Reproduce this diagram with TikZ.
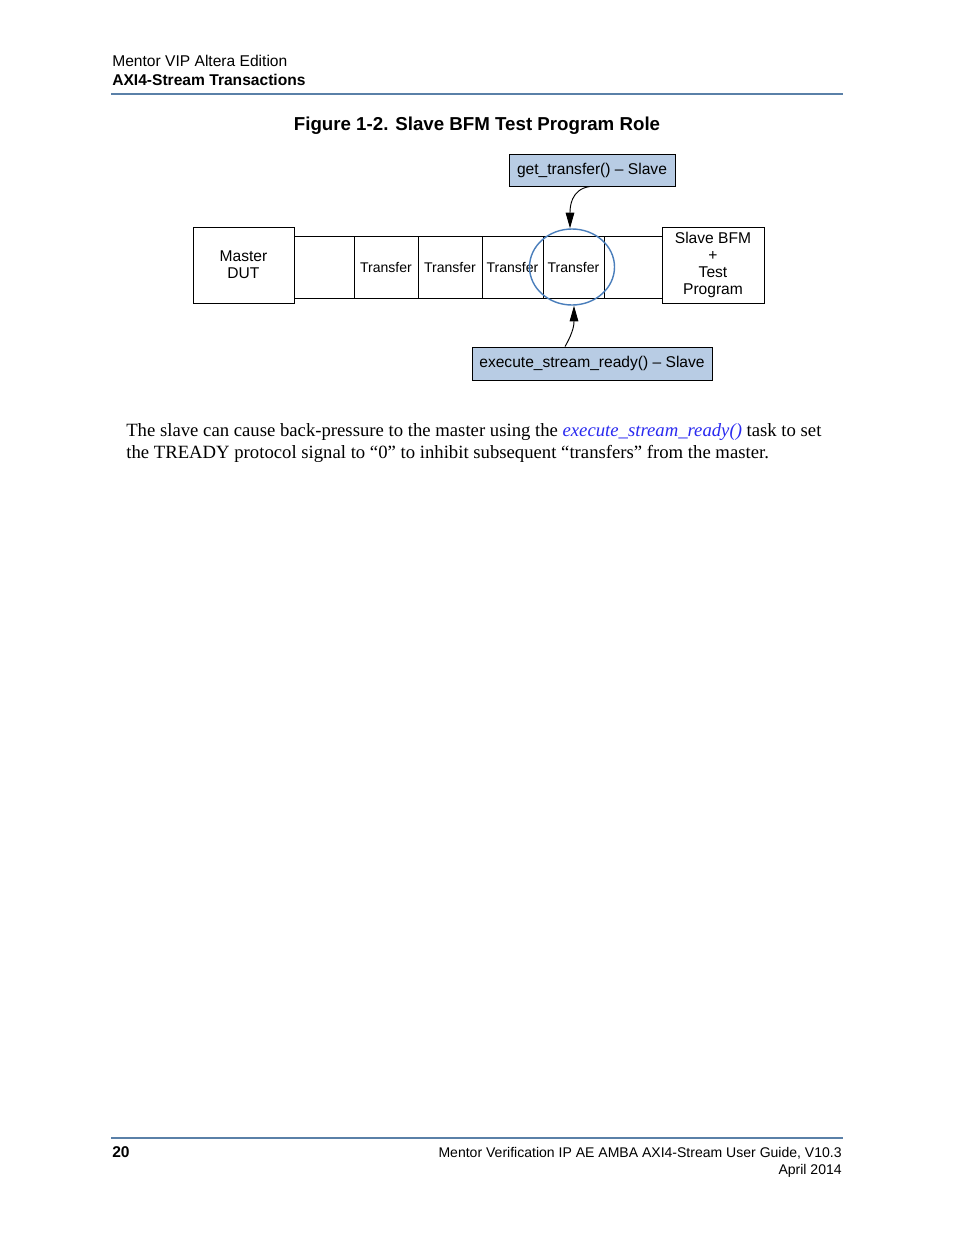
\documentclass[tikz,border=0pt]{standalone}
\usepackage{fontspec}
\setmainfont{Liberation Serif}
\newfontfamily\hv[Ligatures=TeX]{Liberation Sans}
\usetikzlibrary{arrows.meta,shapes.geometric}
\definecolor{rulecol}{HTML}{5A80A8}
\definecolor{boxfill}{HTML}{B8CCE4}
\definecolor{ringcol}{HTML}{4A7EBB}
\definecolor{linkcol}{HTML}{2A2AF0}
\def\pxu{0.6415pt}
\begin{document}
\begin{tikzpicture}[x=\pxu,y=-\pxu,
  hdr/.style={inner sep=0pt, anchor=base west, font=\hv\fontsize{10}{12}\selectfont},
  hdrb/.style={hdr, font=\hv\bfseries\fontsize{10}{12}\selectfont},
  foot/.style={inner sep=0pt, anchor=base east, font=\hv\fontsize{9}{11}\selectfont},
  body/.style={inner sep=0pt, anchor=base west, font=\fontsize{12}{14}\selectfont},
  rulestyle/.style={draw=rulecol, line width=1pt},
  blk/.style={draw, line width=0.6pt, inner sep=0pt, align=center,
    font=\hv\fontsize{10}{11}\selectfont},
  cellbox/.style={draw, line width=0.6pt, inner sep=0pt,
    minimum height=62*\pxu, font=\hv\fontsize{9}{11}\selectfont},
  callout/.style={draw, line width=0.6pt, fill=boxfill, inner sep=0pt,
    font=\hv\fontsize{10}{12}\selectfont},
  ring/.style={ellipse, draw=ringcol, line width=0.9pt, inner sep=0pt,
    minimum width=85*\pxu, minimum height=76*\pxu},
  arr/.style={line width=0.6pt, -{Triangle[length=10pt,width=5.5pt]}}
]
\useasboundingbox[fill=white] (0,0) rectangle (954,1235);

% header
\node[hdr] (h1) at (112,66) {Mentor VIP Altera Edition};
\node[hdrb] (h2) at (112,85) {AXI4-Stream Transactions};
\coordinate (r1a) at (111,94);
\coordinate (r1b) at (843,94);
\draw[rulestyle] (r1a) -- (r1b);

% title
\node[inner sep=0pt, anchor=base, font=\hv\bfseries\fontsize{12}{14}\selectfont]
  (title) at (477,130) {Figure 1-2. Slave BFM Test Program Role};

% diagram
\node[blk, minimum width=101*\pxu, minimum height=76*\pxu] (master) at (243.5,265) {Master\\DUT};
\node[cellbox, minimum width=60*\pxu] (c1) at (324,267) {};
\node[cellbox, minimum width=64*\pxu] (c2) at (386,267) {Transfer};
\node[cellbox, minimum width=64*\pxu] (c3) at (450,267) {Transfer};
\node[cellbox, minimum width=61*\pxu] (c4) at (512.5,267) {Transfer};
\node[cellbox, minimum width=61*\pxu] (c5) at (573.5,267) {Transfer};
\node[cellbox, minimum width=58*\pxu] (c6) at (633,267) {};
\node[blk, fill=white, minimum width=102*\pxu, minimum height=76*\pxu] (slave) at (713,265) {Slave BFM\\+\\Test\\Program};
\node[ring] (ring) at (572,267) {};

\node[callout, minimum width=166*\pxu, minimum height=32*\pxu] (get) at (592,170) {get\_transfer() – Slave};
\node[callout, minimum width=240*\pxu, minimum height=33*\pxu] (exec) at (592,363.5) {execute\_stream\_ready() – Slave};

\draw[arr] ([xshift=-2*\pxu]get.south) to[out=188,in=90,looseness=1.1] ([xshift=-2*\pxu]ring.north);
\draw[arr] ([xshift=-27*\pxu]exec.north) to[out=60,in=-90,looseness=1.1] ([xshift=2*\pxu]ring.south);

% body text
\node[body] (p1) at (126,436) {The slave can cause back-pressure to the master using the {\itshape\color{linkcol}execute\_stream\_ready()} task to set};
\node[body] (p2) at (126,458) {the TREADY protocol signal to ``0'' to inhibit subsequent ``transfers'' from the master.};

% footer
\coordinate (r2a) at (111,1138);
\coordinate (r2b) at (843,1138);
\draw[rulestyle] (r2a) -- (r2b);
\node[hdrb] (pg) at (112,1157) {20};
\node[foot] (f1) at (842,1157) {Mentor Verification IP AE AMBA AXI4-Stream User Guide, V10.3};
\node[foot] (f2) at (842,1174) {April 2014};
\end{tikzpicture}
\end{document}
